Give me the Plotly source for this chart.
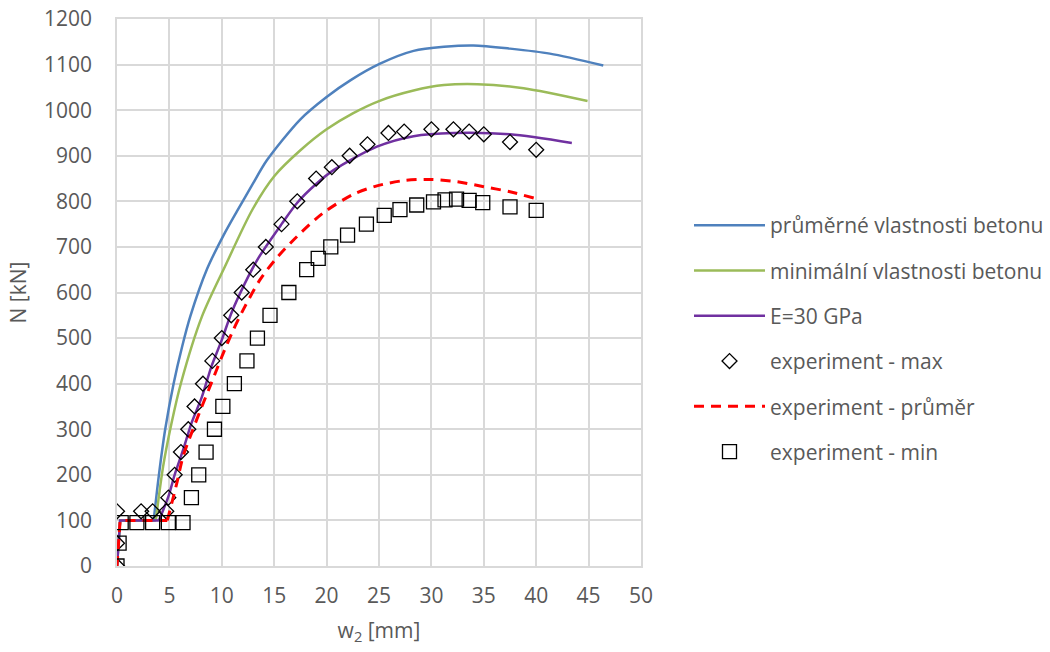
import plotly.graph_objects as go

# Model curves: load N [kN] vs. deflection w2 [mm]
# Each curve starts with a straight "foot" (initial slip at ~100 kN), then a smooth rising branch.
avg_foot_x = [0, 0.3, 3.5]
avg_foot_y = [0, 100, 100]
avg_x = [3.5, 4.0, 4.6, 5.4, 6.2, 7.0, 8.6, 10.2, 11.44, 12.9, 14.3, 17.5, 20.0, 22.3, 25.1, 28.3, 31.2, 34.0, 37.5, 41.3, 46.4]
avg_y = [100, 200, 300, 400, 480, 548, 652, 727, 778, 836, 890, 980, 1029, 1066, 1102, 1130, 1139, 1142, 1135, 1124, 1098]

min_foot_x = [0, 0.3, 3.7]
min_foot_y = [0, 100, 100]
min_x = [3.7, 4.4, 5.2, 6.1, 8.1, 10.3, 12.9, 15.0, 17.5, 20.0, 22.5, 25.0, 28.3, 31.2, 34.4, 38.8, 44.9]
min_y = [100, 218, 313, 401, 547, 657, 781, 855, 912, 958, 993, 1020, 1043, 1055, 1057, 1048, 1020]

e30_foot_x = [0, 0.3, 4.0]
e30_foot_y = [0, 100, 100]
e30_x = [4.0, 4.9, 5.5, 6.3, 7.1, 8.1, 9.0, 10.0, 10.9, 12.2, 13.5, 15.7, 17.2, 19.0, 20.7, 24.8, 28.3, 32.1, 37.5, 43.4]
e30_y = [100, 152, 200, 254, 313, 371, 437, 496, 554, 620, 676, 750, 797, 838, 869, 920, 943, 950, 947, 928]

# Experiment: averaged curve
exp_avg_foot_x = [0, 0.3, 4.8]
exp_avg_foot_y = [0, 100, 100]
exp_avg_x = [4.8, 5.7, 6.3, 7.1, 8.1, 9.0, 10.0, 11.1, 12.2, 13.7, 15.1, 16.7, 18.9, 20.0, 22.5, 24.8, 27.5, 29.9,
             32.5, 35.0, 37.5, 39.8]
exp_avg_y = [100, 181, 240, 291, 350, 401, 459, 518, 569, 630, 672, 712, 760, 780, 815, 834, 846, 848,
             843, 832, 821, 807]

# Experiment: upper envelope
exp_max_x = [0, 0, 0, 2.3, 3.4, 4.7, 4.9, 5.5, 6.1, 6.8, 7.4, 8.2, 9.1, 10.0, 10.9, 11.9, 13.0, 14.2, 15.7, 17.2,
             19.0, 20.5, 22.2, 23.9, 25.9, 27.4, 30.0, 32.1, 33.6, 35.0, 37.5, 40.0]
exp_max_y = [0, 50, 120, 120, 120, 120, 150, 200, 250, 300, 350, 400, 450, 500, 550, 600, 650, 700, 750, 800,
             850, 875, 900, 925, 950, 953, 958, 958, 953, 947, 930, 913]

# Experiment: lower envelope
exp_min_x = [0, 0.2, 0.4, 1.9, 3.4, 4.9, 6.3, 7.1, 7.8, 8.5, 9.3, 10.1, 11.2, 12.4, 13.4, 14.6, 16.4, 18.1, 19.2,
             20.4, 22.0, 23.8, 25.5, 27.0, 28.6, 30.2, 31.3, 32.4, 33.6, 34.9, 37.5, 40.0]
exp_min_y = [0, 50, 95, 95, 95, 95, 95, 150, 200, 250, 300, 350, 400, 450, 500, 550, 600, 650, 675,
             700, 726, 750, 769, 782, 792, 799, 803, 805, 802, 797, 788, 780]

x_ticks = list(range(0, 51, 5))
y_ticks = list(range(0, 1201, 100))

FONT = "Open Sans"
TEXT_COLOR = "#595959"
GRID = "#d9d9d9"

BLUE, GREEN, PURPLE, RED = "#4f81bd", "#9bbb59", "#7030a0", "#ff0000"
RED_DASH = "10px,7px"

fig = go.Figure()


def add_curve(foot_x, foot_y, x, y, name, color, width, dash, group):
    # straight initial part (no legend entry)
    fig.add_trace(go.Scatter(x=foot_x, y=foot_y, mode="lines", showlegend=False, hoverinfo="skip",
                             line=dict(color=color, width=width, dash=dash), legendgroup=group))
    # smoothed main branch
    fig.add_trace(go.Scatter(x=x, y=y, mode="lines", name=name, legendgroup=group,
                             line=dict(color=color, width=width, dash=dash, shape="spline", smoothing=0.8)))


add_curve(avg_foot_x, avg_foot_y, avg_x, avg_y, "průměrné vlastnosti betonu", BLUE, 2.5, "solid", "a")
add_curve(min_foot_x, min_foot_y, min_x, min_y, "minimální vlastnosti betonu", GREEN, 2.5, "solid", "b")
add_curve(e30_foot_x, e30_foot_y, e30_x, e30_y, "E=30 GPa", PURPLE, 2.5, "solid", "c")

fig.add_trace(go.Scatter(x=exp_max_x, y=exp_max_y, mode="markers", name="experiment - max",
                         marker=dict(symbol="diamond-open", size=11.5, color="black",
                                     line=dict(color="black", width=1.3)), legendgroup="d"))

add_curve(exp_avg_foot_x, exp_avg_foot_y, exp_avg_x, exp_avg_y, "experiment - průměr", RED, 3, RED_DASH, "e")

fig.add_trace(go.Scatter(x=exp_min_x, y=exp_min_y, mode="markers", name="experiment - min",
                         marker=dict(symbol="square-open", size=14, color="black",
                                     line=dict(color="black", width=1.3)), legendgroup="f"))

fig.update_layout(
    width=1050, height=652,
    margin=dict(l=117, r=409, t=19, b=86, autoexpand=False),
    paper_bgcolor="white", plot_bgcolor="white",
    font=dict(family=FONT, size=21, color=TEXT_COLOR),
    legend=dict(xref="container", yref="container", x=689 / 1050, y=1 - 205 / 652,
                xanchor="left", yanchor="top",
                font=dict(family=FONT, size=21, color=TEXT_COLOR),
                tracegroupgap=15, itemwidth=71, bgcolor="rgba(0,0,0,0)", groupclick="toggleitem"),
    xaxis=dict(range=[0, 50], tickvals=x_ticks, showgrid=True, gridcolor=GRID, gridwidth=1.5,
               showline=True, mirror=True, linecolor=GRID, linewidth=1.5, zeroline=False,
               ticks="outside", ticklen=10, tickcolor="rgba(0,0,0,0)", automargin=False,
               title=dict(text="w<sub>2</sub> [mm]", standoff=15, font=dict(size=21))),
    yaxis=dict(range=[0, 1200], tickvals=y_ticks, showgrid=True, gridcolor=GRID, gridwidth=1.5,
               showline=True, mirror=True, linecolor=GRID, linewidth=1.5, zeroline=False,
               ticks="outside", ticklen=19, tickcolor="rgba(0,0,0,0)", automargin=False,
               title=dict(text="N [kN]", standoff=12, font=dict(size=21))),
)

fig.write_html("out.html")
